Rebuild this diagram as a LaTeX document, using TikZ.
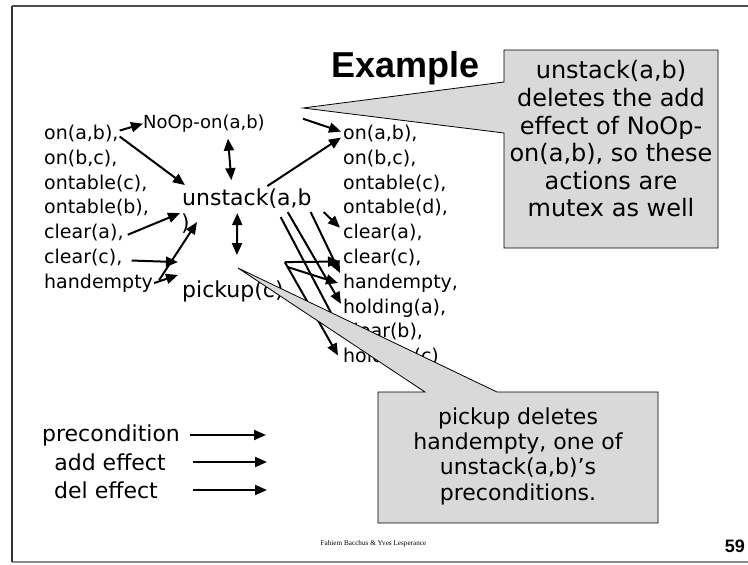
\documentclass[tikz,border=0pt]{standalone}
\usepackage{fontspec}
\setmainfont{DejaVu Sans}
\newfontfamily\headfont{Liberation Sans}
\newfontfamily\footfont{Liberation Serif}
\usetikzlibrary{arrows.meta,calc}

\tikzset{
  fact/.style={anchor=base west, inner sep=0pt, font=\fontsize{19}{22}\selectfont},
  opname/.style={anchor=base west, inner sep=0pt, font=\fontsize{18}{22}\selectfont},
  act/.style={anchor=base west, inner sep=0pt, font=\fontsize{22}{26}\selectfont},
  legendtext/.style={inner sep=0pt, font=\fontsize{22}{26}\selectfont},
  link/.style={line width=2pt, -{Triangle[length=12pt,width=10pt]}},
  mutex/.style={line width=2pt, {Triangle[length=12pt,width=10pt]}-{Triangle[length=12pt,width=10pt]}},
  balloon/.style={fill=black!15, draw=black, line width=0.8pt, line join=miter},
  notetext/.style={inner sep=0pt, align=center},
}

\begin{document}
\begin{tikzpicture}[x=1pt,y=-1pt]
\useasboundingbox (0,0) rectangle (748,565);
\fill[white] (0,0) rectangle (748,565);

% slide frame
\draw[black!70, line width=1.5pt] (12,6) -- (748,6);
\draw[black!45, line width=1.2pt] (12,562) -- (748,562);
\draw[black!80, line width=2pt] (12,6) -- (12,562);

% title
\node[font=\headfont\bfseries\fontsize{36}{40}\selectfont, anchor=base west, inner sep=0pt] (title) at (331,77) {Example};

% state level 0
\node[fact] (l1) at (44,139.5) {on(a,b),};
\node[fact] (l2) at (44,164.3) {on(b,c),};
\node[fact] (l3) at (44,189.1) {ontable(c),};
\node[fact] (l4) at (44,213.9) {ontable(b),};
\node[fact] (l5) at (44,238.7) {clear(a),};
\node[fact] (l6) at (44,263.5) {clear(c),};
\node[fact] (l7) at (44,288.3) {handempty};

% action level
\node[opname] (noop) at (143,128.7) {NoOp-on(a,b)};
\node[act] (ust) at (182,205) {unstack(a,b};
\node[act] (ustc) at (181,230) {)};
\node[act] (pk) at (182,297) {pickup(c)};

% state level 1
\node[fact] (r1) at (343,139.5) {on(a,b),};
\node[fact] (r2) at (343,164.3) {on(b,c),};
\node[fact] (r3) at (343,189.1) {ontable(c),};
\node[fact] (r4) at (343,213.9) {ontable(d),};
\node[fact] (r5) at (343,238.7) {clear(a),};
\node[fact] (r6) at (343,263.5) {clear(c),};
\node[fact] (r7) at (343,288.3) {handempty,};
\node[fact] (r8) at (343,313.1) {holding(a),};
\node[fact] (r9) at (343,337.9) {clear(b),};
\node[fact] (r10) at (343,362.7) {holding(c)};

% preconditions
\draw[link] ($(l1.east)+(1,-3)$) -- (noop.west);
\draw[link] ($(l1.east)+(1,3)$) -- ($(ust.north west)+(3,-3)$);
\draw[link] ($(l5.east)+(4,2)$) -- ($(ust.south west)+(-2,5)$);
\draw[link] ($(l6.east)+(9,3)$) -- ($(pk.north west)+(-4,-18)$);
\draw[link] ($(l7.east)+(1,0)$) -- ($(pk.west)+(-4,-16)$);
\draw[link] ($(l7.east)+(6,-3)$) -- ($(ust.south west)+(15,14)$);

% mutex relations
\draw[mutex] ($(noop.south)+(24,6)$) -- ($(ust.north)+(-15.5,-8)$);
\draw[mutex] ($(ust.south)+(-9.5,5)$) -- ($(pk.north)+(4,-25)$);

% effects
\draw[link] ($(ust.north)+(20.5,-2)$) -- ($(r1.west)+(-2,4)$);
\draw[link] ($(noop.east)+(38,-5)$) -- ($(r1.west)+(-2,-2)$);
\draw[link] ($(ust.east)+(12,14)$) -- ($(r5.west)+(-3,-5)$);
\draw[link] ($(ust.south east)+(-1,4)$) -- ($(r7.west)+(-3,-10)$);
\draw[link] ($(ust.south east)+(-24,4)$) -- ($(r8.west)+(-2,-4)$);
\draw[link] ($(ust.south east)+(-31,9)$) -- ($(r9.west)+(-3,-2)$);
\draw[link] ($(pk.north east)+(1,-18)$) -- ($(r6.west)+(-3,4)$);
\draw[link] ($(pk.north east)+(4,-13)$) -- ($(r7.west)+(-5,0)$);
\draw[link] ($(pk.north east)+(1,-18)$) -- ($(r10.west)+(-5,-2)$);

% legend
\node[legendtext] (lp) at (111,435) {precondition};
\node[legendtext] (la) at (110,462) {add effect};
\node[legendtext] (ld) at (106,490) {del effect};
\coordinate (lps) at (190,435); \coordinate (lpe) at (266,435);
\coordinate (las) at (193,462); \coordinate (lae) at (267,462);
\coordinate (lds) at (193,490); \coordinate (lde) at (267,490);
\draw[link] (lps) -- (lpe);
\draw[link] (las) -- (lae);
\draw[link] (lds) -- (lde);

% callouts
\draw[balloon] (504,50) -- (718,50) -- (718,248) -- (504,248) -- (504,133) -- (303,108) -- (504,82) -- cycle;
\node[notetext, font=\fontsize{24}{27.6}\selectfont] (c1) at (611,139)
  {unstack(a,b)\\deletes the add\\effect of NoOp-\\on(a,b), so these\\actions are\\mutex as well};

\draw[balloon] (378,392) -- (425,392) -- (238,268) -- (497,392) -- (658,392) -- (658,523) -- (378,523) -- cycle;
\node[notetext, font=\fontsize{22}{25.3}\selectfont] (c2) at (518,456)
  {pickup deletes\\handempty, one of\\unstack(a,b)’s\\preconditions.};

% footer
\node[font=\footfont\fontsize{7.2}{9}\selectfont, anchor=base, inner sep=0pt] (foot) at (373.5,545) {Fahiem Bacchus \& Yves Lesperance};
\node[font=\headfont\bfseries\fontsize{18}{20}\selectfont, anchor=base east, inner sep=0pt] (pg) at (745,552) {59};
\end{tikzpicture}
\end{document}
